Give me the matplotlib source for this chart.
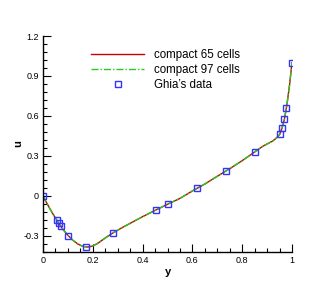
import matplotlib
matplotlib.use("Agg")
import matplotlib.pyplot as plt
from matplotlib.ticker import MultipleLocator

plt.rcParams['font.family'] = ['Liberation Sans', 'DejaVu Sans']

# compact scheme solutions
y_65 = [0.0, 0.02, 0.04, 0.06, 0.08, 0.10, 0.12, 0.14, 0.16, 0.18, 0.20, 0.22, 0.25,
        0.28, 0.32, 0.36, 0.40, 0.45, 0.50, 0.55, 0.60, 0.65, 0.70, 0.75, 0.80, 0.85,
        0.88, 0.90, 0.92, 0.93, 0.94, 0.95, 0.96, 0.97, 0.98, 0.99, 1.0]
u_65 = [0.0, -0.07, -0.135, -0.195, -0.25, -0.295, -0.332, -0.36, -0.378, -0.383, -0.375,
        -0.355, -0.315, -0.278, -0.235, -0.195, -0.155, -0.108, -0.062, -0.018, 0.038,
        0.09, 0.148, 0.205, 0.265, 0.33, 0.37, 0.39, 0.41, 0.423, 0.44, 0.46, 0.51,
        0.58, 0.69, 0.83, 1.0]
y_97 = list(y_65)
u_97 = list(u_65)

# Ghia et al. data
y_ghia = [0.0, 0.0547, 0.0625, 0.0703, 0.1016, 0.1719, 0.2813, 0.4531, 0.5, 0.6172,
          0.7344, 0.8516, 0.9531, 0.9609, 0.9688, 0.9766, 1.0]
u_ghia = [0.0, -0.18109, -0.20196, -0.22220, -0.29730, -0.38289, -0.27805, -0.10648,
          -0.06080, 0.05702, 0.18719, 0.33304, 0.46604, 0.51117, 0.57492, 0.65928, 1.0]

fig = plt.figure(figsize=(3.32, 2.96), dpi=100)
ax = fig.add_axes([43/332, 1-252/296, 249/332, 216/296])

ax.plot(y_65, u_65, color='#cc0000', lw=1.0, label='compact 65 cells')
ax.plot(y_97, u_97, color='#22cc22', lw=1.0, linestyle=(0, (5, 1.5, 1, 1.5)),
        label='compact 97 cells')
ax.plot(y_ghia, u_ghia, linestyle='none', marker='s', markersize=5,
        markerfacecolor='none', markeredgecolor='#3333ff', markeredgewidth=1.0,
        label="Ghia\u2019s data")

ax.set_xlim(0, 1)
ax.set_ylim(-0.42, 1.2)
ax.xaxis.set_minor_locator(MultipleLocator(0.05))
ax.yaxis.set_minor_locator(MultipleLocator(0.06))
ax.set_xticks([0, 0.2, 0.4, 0.6, 0.8, 1.0])
ax.set_xticklabels(['0', '0.2', '0.4', '0.6', '0.8', '1'])
ax.set_yticks([-0.3, 0, 0.3, 0.6, 0.9, 1.2])
ax.set_yticklabels(['-0.3', '0', '0.3', '0.6', '0.9', '1.2'])
ax.tick_params(which='both', direction='in', labelsize=6.5, width=0.8)
ax.tick_params(which='major', length=6, pad=3)
ax.tick_params(which='minor', length=3)
ax.spines['top'].set_visible(False)
ax.spines['right'].set_visible(False)
for s in ('left', 'bottom'):
    ax.spines[s].set_linewidth(1.0)

ax.set_xlabel('y', fontsize=8, fontweight='bold', labelpad=1)
ax.set_ylabel('u', fontsize=8, fontweight='bold', labelpad=0)

ax.legend(loc='upper left', bbox_to_anchor=(91/332, 1-49/296),
          bbox_transform=fig.transFigure, frameon=False, fontsize=8.3,
          handlelength=4.6, handletextpad=0.85, labelspacing=0.25,
          borderpad=0, borderaxespad=0)

fig.savefig('out.png', dpi=100)
